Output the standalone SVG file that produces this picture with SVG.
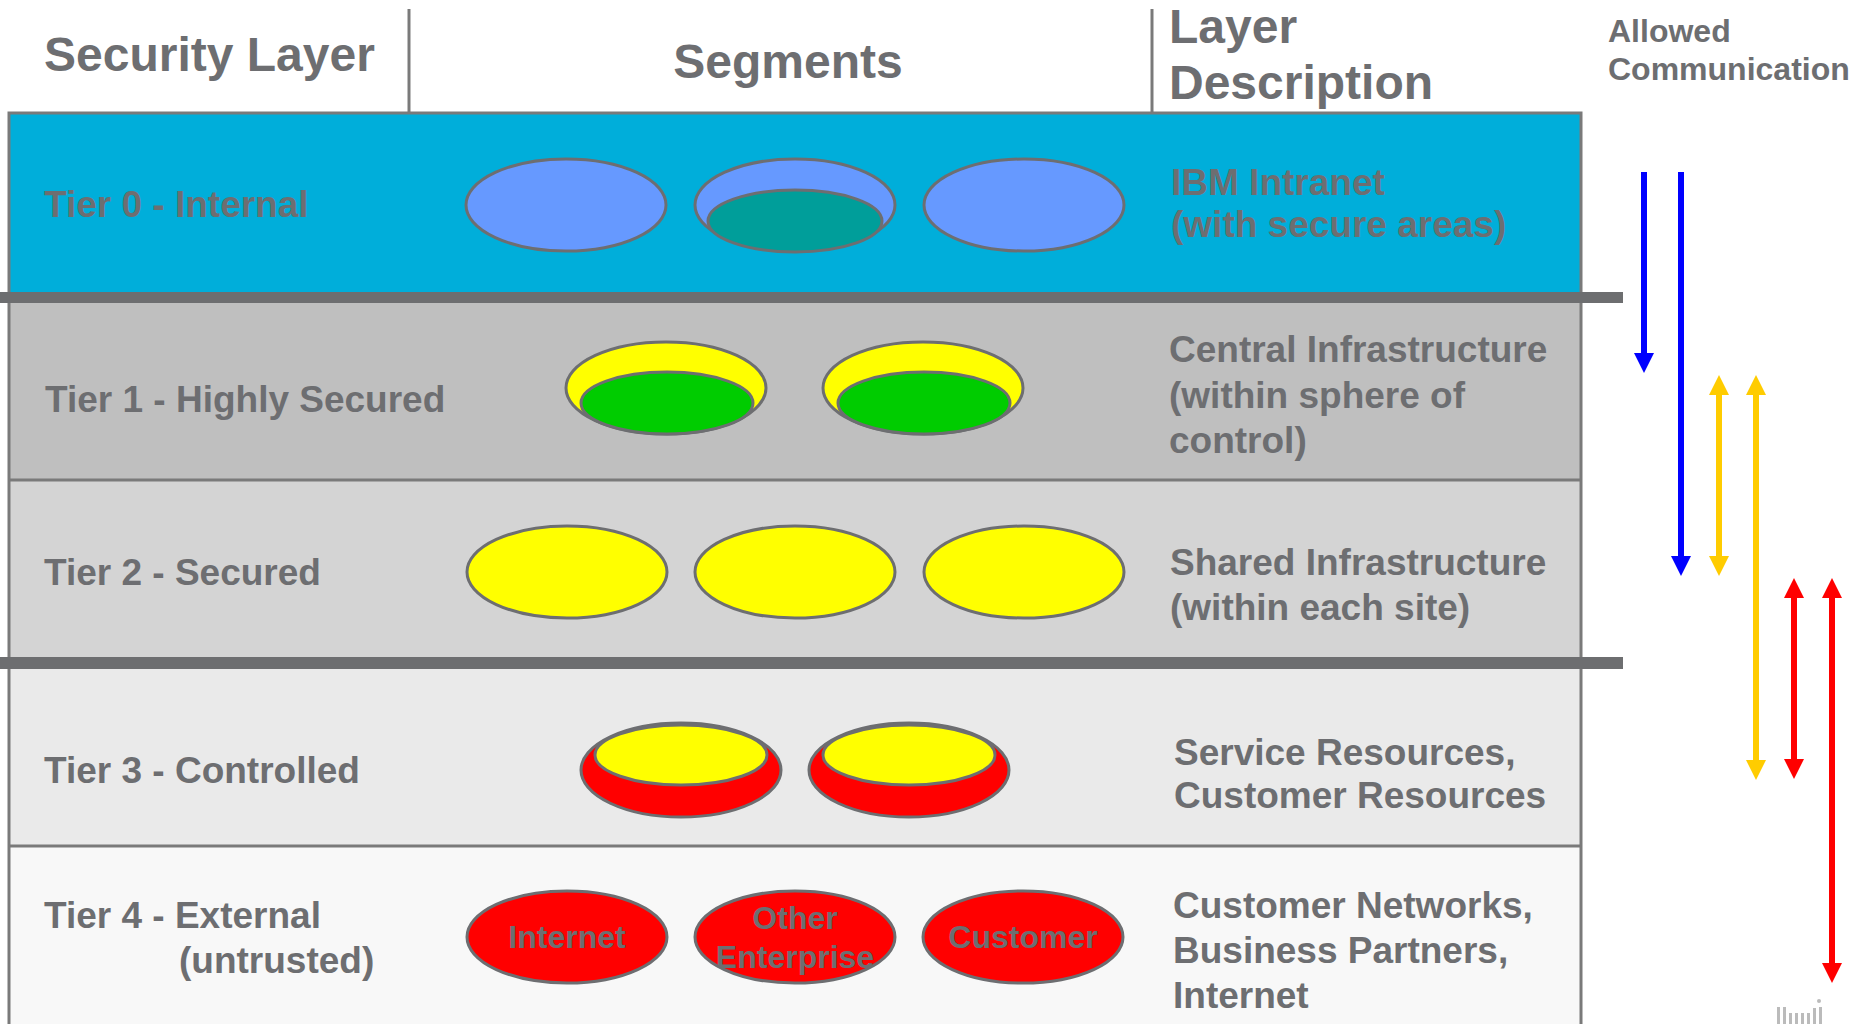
<svg xmlns="http://www.w3.org/2000/svg" width="1854" height="1024" viewBox="0 0 1854 1024">
<style>
text{font-family:"Liberation Sans",Arial,sans-serif;font-weight:bold;fill:#6D6E71}
.hdr{font-size:48px}
.hdr2{font-size:32px}
.lbl{font-size:37px}
.seg{font-size:32px;text-anchor:middle}
.ell{stroke:#6D6E71;stroke-width:3}
.blue{fill:#6699FF}.teal{fill:#009E9A}.yel{fill:#FFFF00}.grn{fill:#00CC00}.red{fill:#FF0000}
.frame{stroke:#7A7A7A;stroke-width:3;fill:none}
.sep{fill:#6D6E70}
.arr{stroke-width:6;fill:none}
</style>
<defs>
<marker id="hb" viewBox="0 0 20 20" refX="0" refY="10" markerWidth="20" markerHeight="20" markerUnits="userSpaceOnUse" orient="auto-start-reverse"><path d="M0,0 L20,10 L0,20 z" fill="#0000FF"/></marker>
<marker id="hy" viewBox="0 0 20 20" refX="0" refY="10" markerWidth="20" markerHeight="20" markerUnits="userSpaceOnUse" orient="auto-start-reverse"><path d="M0,0 L20,10 L0,20 z" fill="#FFCC00"/></marker>
<marker id="hr" viewBox="0 0 20 20" refX="0" refY="10" markerWidth="20" markerHeight="20" markerUnits="userSpaceOnUse" orient="auto-start-reverse"><path d="M0,0 L20,10 L0,20 z" fill="#FF0000"/></marker>
</defs>
<rect width="1854" height="1024" fill="#FFFFFF"/>

<g id="header">
<line x1="409" y1="9" x2="409" y2="113" class="frame"/>
<line x1="1152" y1="9" x2="1152" y2="113" class="frame"/>
<text class="hdr" x="44" y="71">Security Layer</text>
<text class="hdr" x="788" y="78" text-anchor="middle">Segments</text>
<text class="hdr" x="1169" y="43">Layer</text>
<text class="hdr" x="1169" y="99">Description</text>
<text class="hdr2" x="1608" y="42">Allowed</text>
<text class="hdr2" x="1608" y="80">Communication</text>
</g>

<g id="bands">
<rect x="9" y="113" width="1572" height="179" fill="#00AEDA"/>
<rect x="9" y="303" width="1572" height="177" fill="#BFBFBF"/>
<rect x="9" y="480" width="1572" height="177" fill="#D4D4D4"/>
<rect x="9" y="669" width="1572" height="177" fill="#EAEAEA"/>
<rect x="9" y="846" width="1572" height="178" fill="#F8F8F8"/>
<line x1="9" y1="480" x2="1581" y2="480" class="frame"/>
<line x1="9" y1="846" x2="1581" y2="846" class="frame"/>
<path d="M9,1024 V113 H1581 V1024" class="frame"/>
<rect class="sep" x="0" y="292" width="1623" height="11"/>
<rect class="sep" x="0" y="657" width="1623" height="12"/>
</g>

<g id="tier0">
<text class="lbl" x="44" y="217">Tier 0 - Internal</text>
<ellipse class="ell blue" cx="566" cy="205" rx="100" ry="46"/>
<ellipse class="ell blue" cx="795" cy="205" rx="100" ry="46"/>
<ellipse class="ell teal" cx="795" cy="221" rx="87" ry="31"/>
<ellipse class="ell blue" cx="1024" cy="205" rx="100" ry="46"/>
<text class="lbl" x="1171" y="195">IBM Intranet</text>
<text class="lbl" x="1171" y="237">(with secure areas)</text>
</g>

<g id="tier1">
<text class="lbl" x="45" y="412">Tier 1 - Highly Secured</text>
<ellipse class="ell yel" cx="666" cy="388" rx="100" ry="46"/>
<ellipse class="ell grn" cx="667" cy="403" rx="86" ry="31"/>
<ellipse class="ell yel" cx="923" cy="388" rx="100" ry="46"/>
<ellipse class="ell grn" cx="924" cy="403" rx="86" ry="31"/>
<text class="lbl" x="1169" y="362">Central Infrastructure</text>
<text class="lbl" x="1169" y="408">(within sphere of</text>
<text class="lbl" x="1169" y="453">control)</text>
</g>

<g id="tier2">
<text class="lbl" x="44" y="585">Tier 2 - Secured</text>
<ellipse class="ell yel" cx="567" cy="572" rx="100" ry="46"/>
<ellipse class="ell yel" cx="795" cy="572" rx="100" ry="46"/>
<ellipse class="ell yel" cx="1024" cy="572" rx="100" ry="46"/>
<text class="lbl" x="1170" y="575">Shared Infrastructure</text>
<text class="lbl" x="1170" y="620">(within each site)</text>
</g>

<g id="tier3">
<text class="lbl" x="44" y="783">Tier 3 - Controlled</text>
<ellipse class="ell red" cx="681" cy="770" rx="100" ry="47"/>
<ellipse class="ell yel" cx="681" cy="755" rx="86" ry="30"/>
<ellipse class="ell red" cx="909" cy="770" rx="100" ry="47"/>
<ellipse class="ell yel" cx="909" cy="755" rx="86" ry="30"/>
<text class="lbl" x="1174" y="765">Service Resources,</text>
<text class="lbl" x="1174" y="808">Customer Resources</text>
</g>

<g id="tier4">
<text class="lbl" x="44" y="928">Tier 4 - External</text>
<text class="lbl" x="179" y="973">(untrusted)</text>
<ellipse class="ell red" cx="567" cy="937" rx="100" ry="46"/>
<text class="seg" x="567" y="948">Internet</text>
<ellipse class="ell red" cx="795" cy="937" rx="100" ry="46"/>
<text class="seg" x="795" y="929">Other</text>
<text class="seg" x="795" y="968">Enterprise</text>
<ellipse class="ell red" cx="1023" cy="937" rx="100" ry="46"/>
<text class="seg" x="1023" y="948">Customer</text>
<text class="lbl" x="1173" y="918">Customer Networks,</text>
<text class="lbl" x="1173" y="963">Business Partners,</text>
<text class="lbl" x="1173" y="1008">Internet</text>
</g>

<g id="connectors">
<line class="arr" x1="1644" y1="172" x2="1644" y2="353" stroke="#0000FF" marker-end="url(#hb)"/>
<line class="arr" x1="1681" y1="172" x2="1681" y2="556" stroke="#0000FF" marker-end="url(#hb)"/>
<line class="arr" x1="1719" y1="395" x2="1719" y2="556" stroke="#FFCC00" marker-start="url(#hy)" marker-end="url(#hy)"/>
<line class="arr" x1="1756" y1="395" x2="1756" y2="760" stroke="#FFCC00" marker-start="url(#hy)" marker-end="url(#hy)"/>
<line class="arr" x1="1794" y1="598" x2="1794" y2="759" stroke="#FF0000" marker-start="url(#hr)" marker-end="url(#hr)"/>
<line class="arr" x1="1832" y1="598" x2="1832" y2="963" stroke="#FF0000" marker-start="url(#hr)" marker-end="url(#hr)"/>
</g>

<g id="logo" fill="#BBBBBB">
<rect x="1777" y="1007" width="3" height="17"/>
<rect x="1783" y="1007" width="3" height="17"/>
<rect x="1789" y="1013" width="3" height="11"/>
<rect x="1795" y="1013" width="3" height="11"/>
<rect x="1801" y="1013" width="3" height="11"/>
<rect x="1807" y="1013" width="3" height="11"/>
<rect x="1813" y="1008" width="3" height="16"/>
<rect x="1819" y="1007" width="3" height="17"/>
<circle cx="1819" cy="1001" r="2"/>
</g>
</svg>
